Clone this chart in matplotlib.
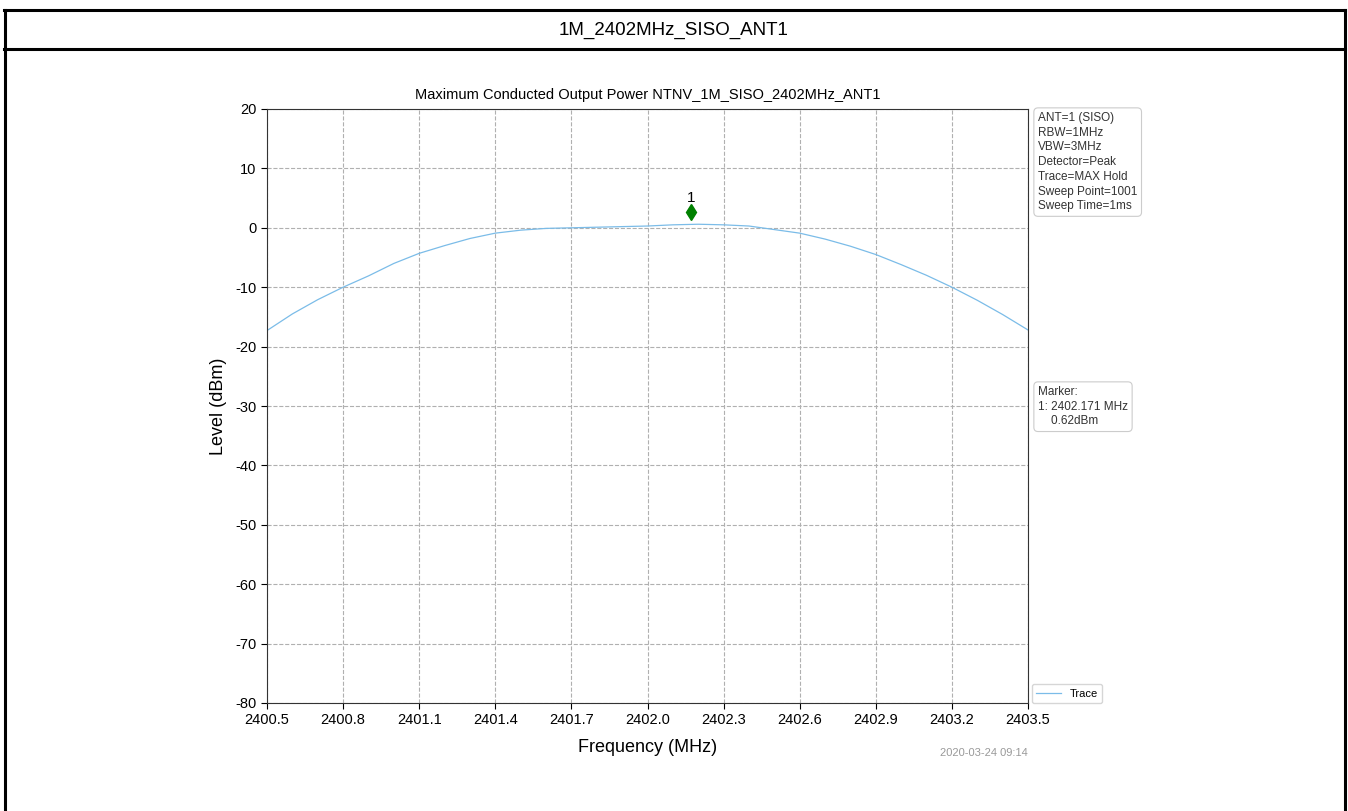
import matplotlib
matplotlib.use("Agg")
import matplotlib.pyplot as plt
from matplotlib.lines import Line2D
import matplotlib.transforms as mtransforms

plt.rcParams['font.family'] = ['Liberation Sans', 'DejaVu Sans']
plt.rcParams['axes.unicode_minus'] = False

# trace, 0.1 MHz steps
freq = [2400.5, 2400.6, 2400.7, 2400.8, 2400.9, 2401.0, 2401.1, 2401.2, 2401.3, 2401.4,
        2401.5, 2401.6, 2401.7, 2401.8, 2401.9, 2402.0, 2402.1, 2402.2, 2402.3, 2402.4,
        2402.5, 2402.6, 2402.7, 2402.8, 2402.9, 2403.0, 2403.1, 2403.2, 2403.3, 2403.4,
        2403.5]
level = [-17.3, -14.5, -12.1, -10.0, -8.1, -6.0, -4.3, -3.0, -1.8, -0.9,
         -0.4, -0.1, 0.0, 0.1, 0.2, 0.3, 0.5, 0.6, 0.5, 0.3,
         -0.3, -0.9, -1.9, -3.1, -4.5, -6.2, -8.0, -10.0, -12.2, -14.6,
         -17.2]

marker_freq = 2402.171
marker_level = 0.62

xticks = [2400.5, 2400.8, 2401.1, 2401.4, 2401.7, 2402.0, 2402.3, 2402.6, 2402.9, 2403.2, 2403.5]
yticks = [20, 10, 0, -10, -20, -30, -40, -50, -60, -70, -80]

settings = ["ANT=1 (SISO)", "RBW=1MHz", "VBW=3MHz", "Detector=Peak",
            "Trace=MAX Hold", "Sweep Point=1001", "Sweep Time=1ms"]

W, H = 1348, 811
fig = plt.figure(figsize=(W / 100, H / 100), dpi=100)

# outer frame like a report table cell
def fx(px):
    return px / W

def fy(py):
    return 1 - py / H

frame_kw = dict(color="black", lw=2.2, transform=fig.transFigure)
fig.add_artist(Line2D([fx(4), fx(1345)], [fy(10), fy(10)], **frame_kw))
fig.add_artist(Line2D([fx(4), fx(1345)], [fy(49), fy(49)], **frame_kw))
fig.add_artist(Line2D([fx(5), fx(5)], [fy(10), 0], **frame_kw))
fig.add_artist(Line2D([fx(1345), fx(1345)], [fy(10), 0], **frame_kw))
fig.text(0.5, fy(30), "1M_2402MHz_SISO_ANT1", ha="center", va="center", fontsize=13.5)

ax = fig.add_axes([fx(267), fy(703), fx(1028) - fx(267), fy(109) - fy(703)])
ax.plot(freq, level, color="#7bbce8", lw=0.9, label="Trace")

off = mtransforms.offset_copy(ax.transData, fig=fig, x=0, y=12, units="dots")
ax.plot([marker_freq], [marker_level], marker="d", color="green", markersize=8,
        linestyle="none", transform=off)
off2 = mtransforms.offset_copy(ax.transData, fig=fig, x=0, y=26, units="dots")
ax.text(marker_freq, marker_level, "1", transform=off2, ha="center", va="center", fontsize=11)

ax.set_xlim(2400.5, 2403.5)
ax.set_ylim(-80, 20)
ax.set_xticks(xticks)
ax.set_xticklabels([f"{t:.1f}" for t in xticks])
ax.set_yticks(yticks)
ax.tick_params(labelsize=10.5, direction="out", length=4)
ax.grid(True, linestyle="--", color="#b0b0b0", lw=0.8)
for s in ax.spines.values():
    s.set_color("#333333")

ax.set_title("Maximum Conducted Output Power NTNV_1M_SISO_2402MHz_ANT1", fontsize=10.5, pad=7)
ax.set_xlabel("Frequency (MHz)", fontsize=13, labelpad=8)
ax.set_ylabel("Level (dBm)", fontsize=13, labelpad=6)

box = dict(boxstyle="round,pad=0.35", fc="white", ec="#cccccc", lw=0.8)
fig.text(fx(1038), fy(112), "\n".join(settings), ha="left", va="top",
         fontsize=8.5, color="#333333", bbox=box, linespacing=1.3)
fig.text(fx(1038), fy(386), "Marker:\n1: %.3f MHz\n    %.2fdBm" % (marker_freq, marker_level),
         ha="left", va="top", fontsize=8.5, color="#333333", bbox=box, linespacing=1.3)

ax.legend(loc="lower left", bbox_to_anchor=(1.005, 0.0), fontsize=8, frameon=True,
          edgecolor="#cccccc", handlelength=2.2, borderaxespad=0)

fig.text(fx(1028), fy(753), "2020-03-24 09:14", ha="right", va="center", fontsize=8, color="#999999")

fig.savefig("out.png", dpi=100)
